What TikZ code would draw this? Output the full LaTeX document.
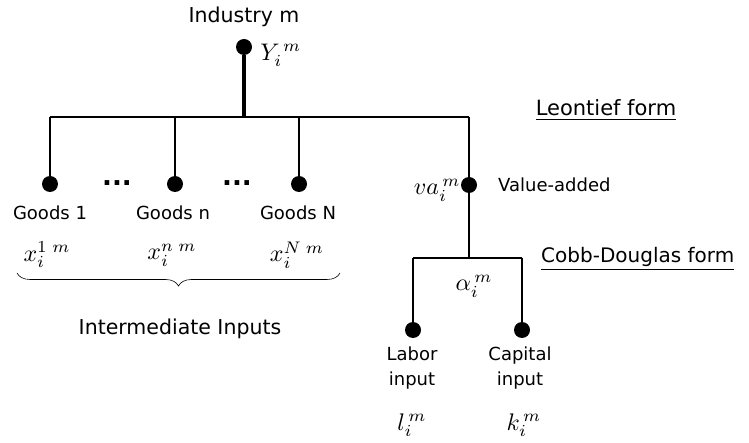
\documentclass[tikz,border=0pt]{standalone}
\usepackage{fontspec}
\usepackage{amsmath}
\newfontfamily\gothic{DejaVu Sans}
\usetikzlibrary{decorations.pathreplacing}
\begin{document}
\begin{tikzpicture}[x=1pt,y=-1pt,
  dot/.style={circle,fill=black,inner sep=0pt,minimum size=16pt},
  wire/.style={line width=2pt},
  trunk/.style={line width=4.5pt},
  lbl/.style={font=\gothic\fontsize{18}{20}\selectfont,inner sep=0pt},
  small/.style={font=\gothic\fontsize{18}{25}\selectfont,inner sep=0pt,align=center},
  head/.style={font=\gothic\fontsize{20.5}{22}\selectfont,inner sep=0pt},
  ellip/.style={font=\gothic\bfseries\fontsize{26}{28}\selectfont,inner sep=0pt},
  mth/.style={scale=2.4,inner sep=0pt}]
\useasboundingbox (0,0) rectangle (749,443);

% top: the industry
\node[dot] (Y) at (244,47) {};
\node[head] (ind) at (244,17) {Industry m};
\node[mth,anchor=west] (Ylab) at (260,55) {$Y_i^{\,m}$};

% Leontief level
\coordinate (J) at (244,117);
\coordinate (L) at (50,117);
\coordinate (R) at (469,117);
\draw[trunk] (Y) -- (J);
\draw[wire] (L) -- (R);

\node[dot] (g1) at (50,184) {};
\node[dot] (gn) at (175,184) {};
\node[dot] (gN) at (299,184) {};
\node[dot] (va) at (469,185) {};
\draw[wire] (L) -- (g1);
\draw[wire] (gn |- L) -- (gn);
\draw[wire] (gN |- L) -- (gN);
\draw[wire] (R) -- (va);

\node[ellip] (d1) at (117,183) {...};
\node[ellip] (d2) at (237,183) {...};

\node[lbl] (t1) at (50,213) {Goods 1};
\node[lbl] (tn) at (173,213) {Goods n};
\node[lbl] (tN) at (298,213) {Goods N};
\node[mth] (x1) at (47,255) {$x_i^{1\;m}$};
\node[mth] (xn) at (172,255) {$x_i^{n\;m}$};
\node[mth] (xN) at (297,255) {$x_i^{N\;m}$};

\node[head,font=\gothic\fontsize{21}{23}\selectfont] (leo) at (606,110) {\underline{Leontief form}};

% value added
\node[mth,anchor=east] (valab) at (461,190) {$va_i^{\,m}$};
\node[lbl,anchor=west] (vat) at (498,185) {Value-added};

% Cobb-Douglas level
\coordinate (CD) at (469,258);
\coordinate (CL) at (413,258);
\coordinate (CR) at (522,258);
\draw[wire] (va) -- (CD);
\draw[wire] (CL) -- (CR);
\node[head,anchor=west,font=\gothic\fontsize{20}{22}\selectfont] (cob) at (541,259) {\underline{Cobb-Douglas form}};
\node[mth] (alpha) at (474,286) {$\alpha_i^{\,m}$};

\node[dot] (lab) at (413,330) {};
\node[dot] (cap) at (522,330) {};
\draw[wire] (CL) -- (lab);
\draw[wire] (CR) -- (cap);
\node[small] (labt) at (412,368) {Labor\\input};
\node[small] (capt) at (520,368) {Capital\\input};
\node[mth] (lm) at (412,425) {$l_i^{\,m}$};
\node[mth] (km) at (524,425) {$k_i^{\,m}$};

% brace under the intermediate goods
\coordinate (bl) at (17,273);
\coordinate (br) at (340,273);
\draw[line width=0.6pt,decorate,decoration={brace,mirror,amplitude=13pt}] (bl) -- (br);
\node[head] (ii) at (180,329) {Intermediate Inputs};
\end{tikzpicture}
\end{document}
